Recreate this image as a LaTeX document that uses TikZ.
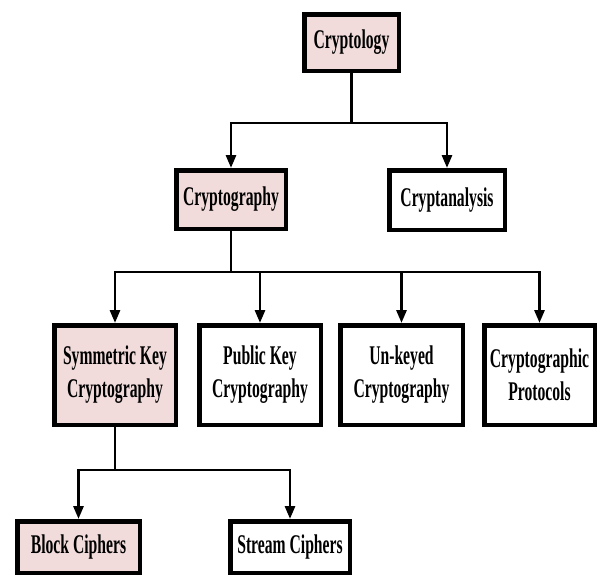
\documentclass[tikz,border=0pt]{standalone}
\usepackage{fontspec}
\usepackage{xcolor}
\usepackage{tikz}
\usetikzlibrary{arrows.meta,positioning}
\newfontfamily\boxfont{Liberation Serif}[FakeStretch=0.58]
\definecolor{rosefill}{HTML}{F2DCDB}
\definecolor{inkline}{HTML}{000000}
\tikzset{
  classbox/.style={
    rectangle, draw=inkline, line width=4.5pt,
    fill=white, align=center, inner sep=0pt,
    font=\boxfont\bfseries\fontsize{27}{33}\selectfont
  },
  rootbox/.style={classbox, fill=rosefill},
  treearrow/.style={-{Triangle[length=13pt,width=10pt]}, line width=2.8pt, color=inkline},
}

\begin{document}
\begin{tikzpicture}[x=1pt, y=-1pt]
  \useasboundingbox (0,0) rectangle (598,576);
  \node[rootbox, minimum width=94.5pt, minimum height=56.5pt] (cryptology) at (351.5,42.5) {Cryptology};
  \node[rootbox, minimum width=109.5pt, minimum height=58.5pt] (cryptography) at (231,199.5) {Cryptography};
  \node[classbox, minimum width=115.5pt, minimum height=59.5pt] (cryptanalysis) at (447,200) {Cryptanalysis};
  \node[rootbox, minimum width=121.5pt, minimum height=99.5pt] (symmetric) at (115,375) {Symmetric Key\\Cryptography};
  \node[classbox, minimum width=121.5pt, minimum height=99.5pt] (public) at (260,375) {Public Key\\Cryptography};
  \node[classbox, minimum width=122.5pt, minimum height=99.5pt] (unkeyed) at (401.5,375) {Un-keyed\\Cryptography};
  \node[classbox, minimum width=110.5pt, minimum height=99.5pt] (protocols) at (539.5,375) {Cryptographic\\Protocols};
  \node[rootbox, minimum width=122.5pt, minimum height=51.5pt] (block) at (78.5,547) {Block Ciphers};
  \node[classbox, minimum width=119.5pt, minimum height=51.5pt] (stream) at (290,547) {Stream Ciphers};

  \draw[treearrow] (cryptology.south) -- ++(0,50) -| (cryptography.north);
  \draw[treearrow] (cryptology.south) -- ++(0,50) -| (cryptanalysis.north);
  \draw[treearrow] (cryptography.south) -- ++(0,41) -| (symmetric.north);
  \draw[treearrow] (cryptography.south) -- ++(0,41) -| (public.north);
  \draw[treearrow] (cryptography.south) -- ++(0,41) -| (unkeyed.north);
  \draw[treearrow] (cryptography.south) -- ++(0,41) -| (protocols.north);
  \draw[treearrow] (symmetric.south) -- ++(0,43) -| (block.north);
  \draw[treearrow] (symmetric.south) -- ++(0,43) -| (stream.north);
\end{tikzpicture}
\end{document}
